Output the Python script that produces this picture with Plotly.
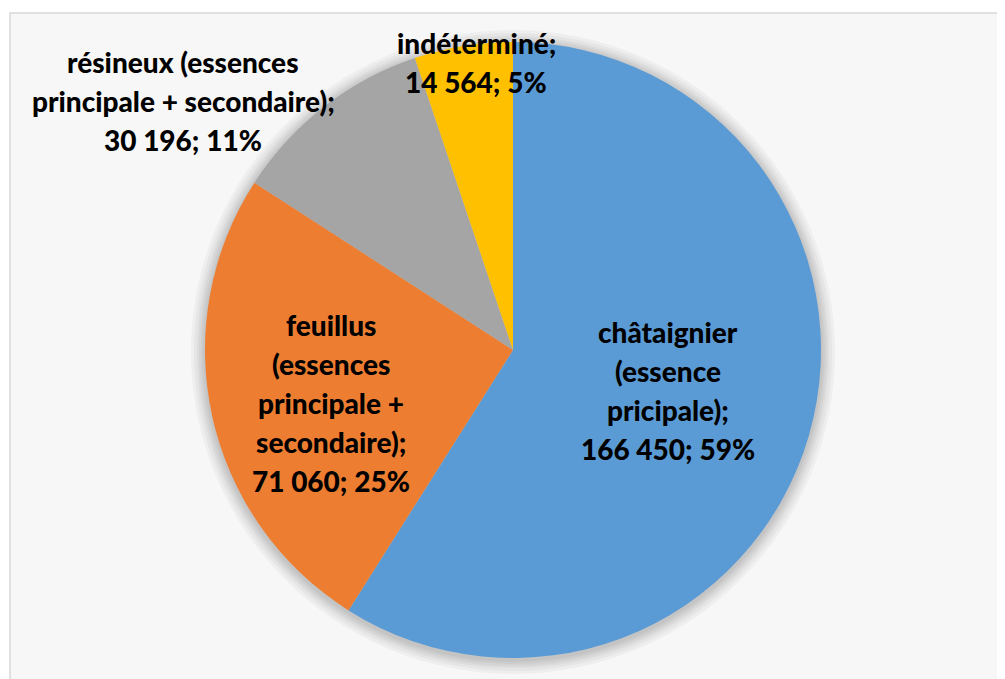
import plotly.graph_objects as go

# ---- data ----
categories = [
    "châtaignier (essence pricipale)",
    "feuillus (essences principale + secondaire)",
    "résineux (essences principale + secondaire)",
    "indéterminé",
]
values = [166450, 71060, 30196, 14564]
percents = ["59%", "25%", "11%", "5%"]
value_labels = ["166 450", "71 060", "30 196", "14 564"]
colors = ["#5B9BD5", "#ED7D31", "#A5A5A5", "#FFC000"]

# label text lines (as displayed in the reference)
label_lines = [
    ["châtaignier", "(essence", "pricipale);", f"{value_labels[0]}; {percents[0]}"],
    ["feuillus", "(essences", "principale +", "secondaire);", f"{value_labels[1]}; {percents[1]}"],
    ["résineux (essences", "principale + secondaire);", f"{value_labels[2]}; {percents[2]}"],
    ["indéterminé;", f"{value_labels[3]}; {percents[3]}"],
]

OFF = 8  # body margin of the html page
W, H = 1005, 679
CX, CY, R = 513 - OFF, 350 - OFF, 308
# label centres in pixels (x, y of first line) and line spacing
label_pos = [(668 - OFF, 332 - OFF), (331 - OFF, 325 - OFF),
             (183 - OFF, 62 - OFF), (476 - OFF, 43 - OFF)]
LINE_H = 39


def px(x):
    return x / W


def py(y):
    return 1 - y / H


fig = go.Figure()
fig.add_trace(go.Pie(
    labels=categories,
    values=values,
    marker=dict(colors=colors, line=dict(width=0)),
    sort=False,
    direction="clockwise",
    rotation=0,
    textinfo="none",
    hoverinfo="label+value+percent",
    showlegend=False,
    domain=dict(x=[px(CX - R), px(CX + R)], y=[py(CY + R), py(CY - R)]),
))

shapes = []
# chart area frame with light background
shapes.append(dict(type="rect", xref="paper", yref="paper",
                   x0=px(10 - OFF), x1=px(1012), y0=py(690), y1=py(13 - OFF),
                   fillcolor="#f7f7f7", line=dict(color="#d9d9d9", width=1.5),
                   layer="below"))
# soft shadow around the pie
for dr in [14, 11, 8, 6, 4, 2]:
    shapes.append(dict(type="circle", xref="paper", yref="paper",
                       x0=px(CX - R - dr), x1=px(CX + R + dr),
                       y0=py(CY + R + dr + 2), y1=py(CY - R - dr + 2),
                       fillcolor="rgba(0,0,0,0.035)", line=dict(width=0),
                       layer="below"))

annotations = []
for lines, (x, y0) in zip(label_lines, label_pos):
    for k, t in enumerate(lines):
        annotations.append(dict(
            x=px(x), y=py(y0 + k * LINE_H), xref="paper", yref="paper",
            text=t, showarrow=False, xanchor="center", yanchor="middle",
            font=dict(family="Lato", size=28, color="#000000", weight=900),
        ))

fig.update_layout(
    width=W, height=H,
    margin=dict(l=0, r=0, t=0, b=0),
    paper_bgcolor="#ffffff",
    plot_bgcolor="#ffffff",
    shapes=shapes,
    annotations=annotations,
)

fig.write_html("out.html")
